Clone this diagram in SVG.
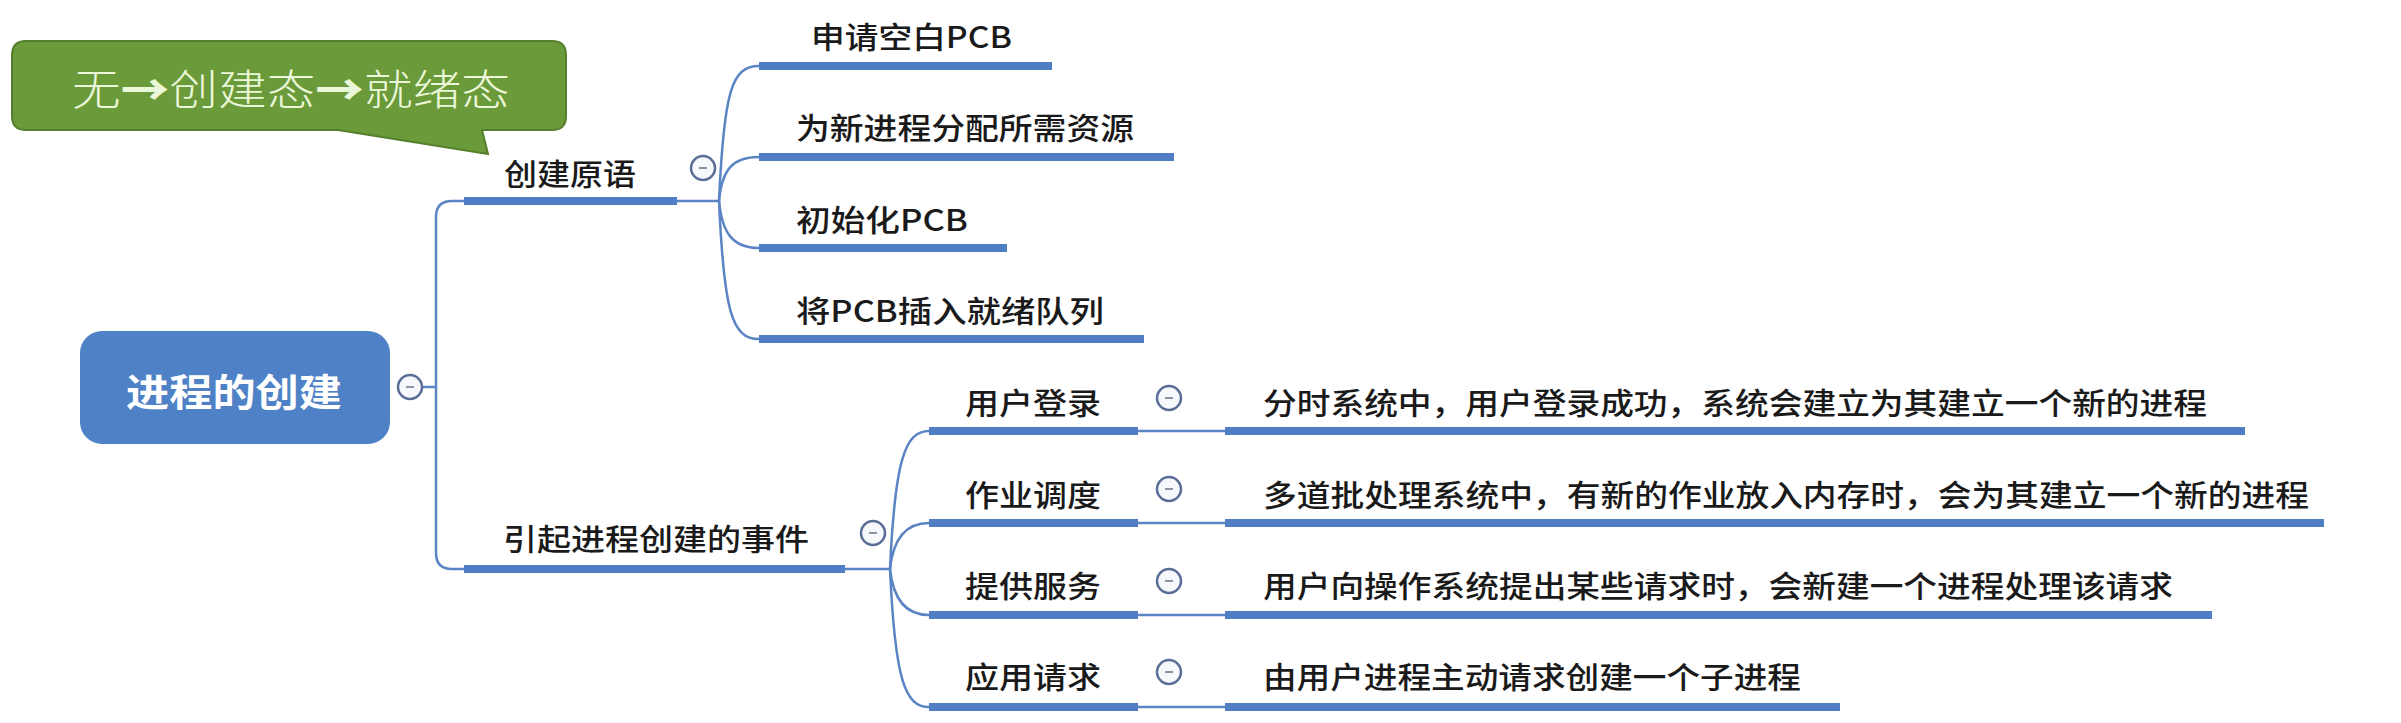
<svg xmlns="http://www.w3.org/2000/svg" width="2401" height="723" viewBox="0 0 2401 723">
<style>
text{font-family:"Noto Sans CJK SC","Liberation Sans",sans-serif;fill:#1a1a1a;dominant-baseline:central}
.t{font-size:30px;font-weight:500}
.root{font-size:38px;font-weight:bold;fill:#ffffff}
.call{font-size:42px;font-weight:300;fill:#eaf7d8}
.arr{font-weight:900}
.ul{stroke:#4f7ec4;stroke-width:8;stroke-linecap:butt;fill:none}
.ln{stroke:#5b84c4;stroke-width:2.5;fill:none}
.cb circle{fill:#f6f8fc;stroke:#5a6d96;stroke-width:2.5}
.cb line{stroke:#8a93a8;stroke-width:2}
</style>
<defs>
<g id="minus" class="cb"><circle r="12"/><line x1="-4" y1="0" x2="4" y2="0"/></g>
</defs>

<g id="connectors">
<path class="ln" d="M422 387 H436"/>
<path class="ln" d="M464 201 H452 Q436 201 436 217 V553 Q436 569 452 569 H464"/>
<path class="ln" d="M677 201 H719"/>
<path class="ln" d="M719 201 C724 90 732 66 759 66"/>
<path class="ln" d="M719 201 C722 170 732 157 759 157"/>
<path class="ln" d="M719 201 C722 232 732 248 759 248"/>
<path class="ln" d="M719 201 C724 312 732 339 759 339"/>
<path class="ln" d="M845 569 H890"/>
<path class="ln" d="M890 569 C895 460 905 431 929 431"/>
<path class="ln" d="M890 569 C893 540 905 523 929 523"/>
<path class="ln" d="M890 569 C893 598 905 615 929 615"/>
<path class="ln" d="M890 569 C895 680 905 707 929 707"/>
<path class="ln" d="M1138 431 H1225 M1138 523 H1225 M1138 615 H1225 M1138 707 H1225"/>
</g>

<g id="callout">
<path d="M26 41 H552 Q566 41 566 55 V116 Q566 130 552 130 H482 L488 154 L338 130 H26 Q12 130 12 116 V55 Q12 41 26 41 Z" fill="#6a9a3a" stroke="#557f2c" stroke-width="2"/>
<text class="call" x="72" y="86" textLength="438" lengthAdjust="spacingAndGlyphs">无<tspan class="arr">→</tspan>创建态<tspan class="arr">→</tspan>就绪态</text>
</g>

<g id="root">
<rect x="80" y="331" width="310" height="113" rx="22" fill="#4f81c6"/>
<text class="root" x="126" y="389" textLength="216" lengthAdjust="spacingAndGlyphs">进程的创建</text>
<use href="#minus" x="410" y="387"/>
</g>

<g id="n-create">
<text class="t" x="504" y="172" textLength="132" lengthAdjust="spacingAndGlyphs">创建原语</text>
<line class="ul" x1="464" y1="201" x2="677" y2="201"/>
<use href="#minus" x="703" y="168"/>
</g>
<g id="c1">
<text class="t" x="811" y="35" textLength="201" lengthAdjust="spacingAndGlyphs">申请空白PCB</text>
<line class="ul" x1="759" y1="66" x2="1052" y2="66"/>
</g>
<g id="c2">
<text class="t" x="796" y="126" textLength="338" lengthAdjust="spacingAndGlyphs">为新进程分配所需资源</text>
<line class="ul" x1="759" y1="157" x2="1174" y2="157"/>
</g>
<g id="c3">
<text class="t" x="796" y="218" textLength="172" lengthAdjust="spacingAndGlyphs">初始化PCB</text>
<line class="ul" x1="759" y1="248" x2="1007" y2="248"/>
</g>
<g id="c4">
<text class="t" x="796" y="309" textLength="308" lengthAdjust="spacingAndGlyphs">将PCB插入就绪队列</text>
<line class="ul" x1="759" y1="339" x2="1144" y2="339"/>
</g>

<g id="n-events">
<text class="t" x="503" y="537" textLength="306" lengthAdjust="spacingAndGlyphs">引起进程创建的事件</text>
<line class="ul" x1="464" y1="569" x2="845" y2="569"/>
<use href="#minus" x="873" y="533"/>
</g>

<g id="e1">
<text class="t" x="965" y="401" textLength="136" lengthAdjust="spacingAndGlyphs">用户登录</text>
<line class="ul" x1="929" y1="431" x2="1138" y2="431"/>
<use href="#minus" x="1169" y="398"/>
</g>
<g id="d1">
<text class="t" x="1263" y="401" textLength="944" lengthAdjust="spacingAndGlyphs">分时系统中，用户登录成功，系统会建立为其建立一个新的进程</text>
<line class="ul" x1="1225" y1="431" x2="2245" y2="431"/>
</g>
<g id="e2">
<text class="t" x="965" y="493" textLength="136" lengthAdjust="spacingAndGlyphs">作业调度</text>
<line class="ul" x1="929" y1="523" x2="1138" y2="523"/>
<use href="#minus" x="1169" y="489"/>
</g>
<g id="d2">
<text class="t" x="1263" y="493" textLength="1046" lengthAdjust="spacingAndGlyphs">多道批处理系统中，有新的作业放入内存时，会为其建立一个新的进程</text>
<line class="ul" x1="1225" y1="523" x2="2324" y2="523"/>
</g>
<g id="e3">
<text class="t" x="965" y="584" textLength="136" lengthAdjust="spacingAndGlyphs">提供服务</text>
<line class="ul" x1="929" y1="615" x2="1138" y2="615"/>
<use href="#minus" x="1169" y="581"/>
</g>
<g id="d3">
<text class="t" x="1263" y="584" textLength="910" lengthAdjust="spacingAndGlyphs">用户向操作系统提出某些请求时，会新建一个进程处理该请求</text>
<line class="ul" x1="1225" y1="615" x2="2212" y2="615"/>
</g>
<g id="e4">
<text class="t" x="965" y="675" textLength="136" lengthAdjust="spacingAndGlyphs">应用请求</text>
<line class="ul" x1="929" y1="707" x2="1138" y2="707"/>
<use href="#minus" x="1169" y="672"/>
</g>
<g id="d4">
<text class="t" x="1263" y="675" textLength="538" lengthAdjust="spacingAndGlyphs">由用户进程主动请求创建一个子进程</text>
<line class="ul" x1="1225" y1="707" x2="1840" y2="707"/>
</g>
</svg>
